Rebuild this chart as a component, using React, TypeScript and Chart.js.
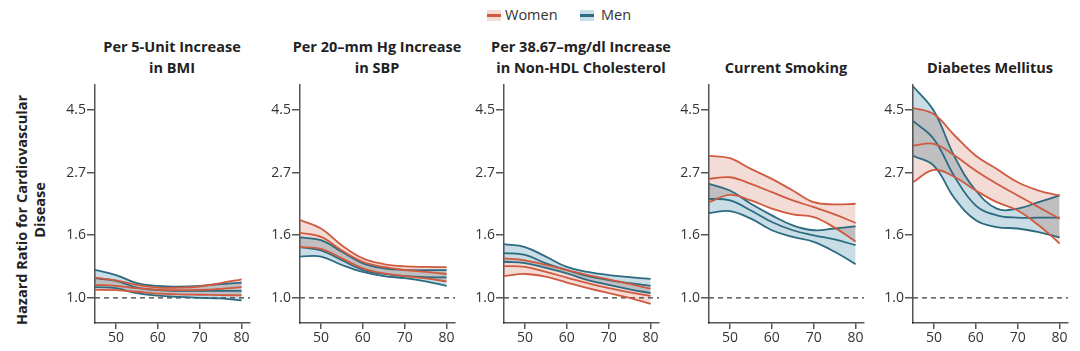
import React, { useEffect, useRef } from 'react';
import { Chart, registerables } from 'chart.js';

Chart.register(...registerables);

// ---------- data ----------
const ages = [45, 50, 55, 60, 65, 70, 75, 80];
const xTicks = [50, 60, 70, 80];
const yTickValues = [1.0, 1.6487, 2.7183, 4.4817];
const yTickLabels = ['1.0', '1.6', '2.7', '4.5'];
const legendLabels = ['Women', 'Men'];
const yAxisTitle = ['Hazard Ratio for Cardiovascular', 'Disease'];

const panelTitles = [
  ['Per 5-Unit Increase', 'in BMI'],
  ['Per 20\u2013mm Hg Increase', 'in SBP'],
  ['Per 38.67\u2013mg/dl Increase', 'in Non-HDL Cholesterol'],
  ['Current Smoking'],
  ['Diabetes Mellitus'],
];

// BMI
const bmiWomenUpper = [1.175, 1.15, 1.11, 1.085, 1.085, 1.095, 1.125, 1.16];
const bmiWomenMean = [1.11, 1.1, 1.08, 1.066, 1.063, 1.066, 1.075, 1.089];
const bmiWomenLower = [1.066, 1.063, 1.05, 1.034, 1.028, 1.025, 1.022, 1.02];
const bmiMenUpper = [1.25, 1.2, 1.125, 1.1, 1.094, 1.1, 1.115, 1.13];
const bmiMenMean = [1.17, 1.145, 1.085, 1.063, 1.057, 1.057, 1.057, 1.057];
const bmiMenLower = [1.09, 1.08, 1.038, 1.018, 1.008, 1.0, 0.995, 0.98];

// SBP
const sbpWomenUpper = [1.86, 1.74, 1.52, 1.37, 1.31, 1.286, 1.28, 1.278];
const sbpWomenMean = [1.68, 1.627, 1.46, 1.334, 1.28, 1.249, 1.23, 1.21];
const sbpWomenLower = [1.5, 1.48, 1.37, 1.266, 1.216, 1.19, 1.169, 1.14];
const sbpMenUpper = [1.62, 1.585, 1.445, 1.317, 1.266, 1.25, 1.247, 1.248];
const sbpMenMean = [1.5, 1.46, 1.35, 1.25, 1.21, 1.19, 1.18, 1.178];
const sbpMenLower = [1.39, 1.39, 1.3, 1.23, 1.19, 1.17, 1.14, 1.1];

// Non-HDL cholesterol
const nhWomenUpper = [1.37, 1.35, 1.3, 1.249, 1.2, 1.16, 1.117, 1.077];
const nhWomenMean = [1.289, 1.28, 1.23, 1.175, 1.124, 1.08, 1.045, 1.015];
const nhWomenLower = [1.19, 1.21, 1.184, 1.13, 1.08, 1.038, 1.0, 0.953];
const nhMenUpper = [1.535, 1.5, 1.39, 1.28, 1.23, 1.2, 1.18, 1.163];
const nhMenMean = [1.43, 1.41, 1.317, 1.249, 1.19, 1.153, 1.124, 1.1];
const nhMenLower = [1.334, 1.32, 1.27, 1.216, 1.153, 1.109, 1.071, 1.038];

// Current smoking
const smWomenUpper = [3.11, 3.05, 2.8, 2.586, 2.356, 2.147, 2.11, 2.12];
const smWomenMean = [2.586, 2.62, 2.485, 2.325, 2.177, 2.064, 1.948, 1.818];
const smWomenLower = [2.147, 2.277, 2.177, 2.04, 1.948, 1.906, 1.752, 1.567];
const smMenUpper = [2.485, 2.356, 2.12, 1.933, 1.785, 1.716, 1.74, 1.77];
const smMenMean = [2.206, 2.177, 2.01, 1.832, 1.716, 1.648, 1.594, 1.523];
const smMenLower = [1.968, 2.0, 1.882, 1.716, 1.627, 1.564, 1.445, 1.307];

// Diabetes mellitus
const dmWomenUpper = [4.56, 4.33, 3.65, 3.11, 2.8, 2.517, 2.356, 2.265];
const dmWomenMean = [3.37, 3.42, 3.11, 2.76, 2.486, 2.265, 2.064, 1.88];
const dmWomenLower = [2.517, 2.777, 2.62, 2.356, 2.147, 2.01, 1.785, 1.544];
const dmMenUpper = [5.42, 4.45, 3.07, 2.356, 2.04, 2.04, 2.147, 2.265];
const dmMenMean = [4.11, 3.55, 2.62, 2.09, 1.933, 1.897, 1.897, 1.897];
const dmMenLower = [3.11, 2.87, 2.206, 1.857, 1.76, 1.74, 1.69, 1.62];

const panelWomen = [
  [bmiWomenLower, bmiWomenMean, bmiWomenUpper],
  [sbpWomenLower, sbpWomenMean, sbpWomenUpper],
  [nhWomenLower, nhWomenMean, nhWomenUpper],
  [smWomenLower, smWomenMean, smWomenUpper],
  [dmWomenLower, dmWomenMean, dmWomenUpper],
];
const panelMen = [
  [bmiMenLower, bmiMenMean, bmiMenUpper],
  [sbpMenLower, sbpMenMean, sbpMenUpper],
  [nhMenLower, nhMenMean, nhMenUpper],
  [smMenLower, smMenMean, smMenUpper],
  [dmMenLower, dmMenMean, dmMenUpper],
];

// ---------- styles ----------
const RED = '#cf5a3f';
const BLUE = '#2c6a80';
const RED_FILL = '#f4dcd6';
const BLUE_FILL = '#c8dde5';
const AXIS = '#555555';
const TEXT = '#333333';
const FONT = '"Open Sans", "DejaVu Sans", sans-serif';

const AXIS_X = [95, 300, 504, 709, 913];
const Y_AXIS_W = 40;
const PAD_R = 8;
const PAD_T = 8;
const X_AXIS_H = 28;
const PLOT_W = 155;
const PLOT_H = 240;
const CANVAS_W = Y_AXIS_W + PLOT_W + PAD_R;
const CANVAS_H = PAD_T + PLOT_H + X_AXIS_H;
const CANVAS_TOP = 83 - PAD_T;

const blendPlugin = {
  id: 'bandBlend',
  beforeDraw(chart: any) {
    chart.ctx.globalCompositeOperation = 'multiply';
  },
  beforeDatasetsDraw(chart: any) {
    chart.ctx.globalCompositeOperation = 'source-over';
  },
};

function Panel({ index }: { index: number }) {
  const ref = useRef<HTMLCanvasElement>(null);
  useEffect(() => {
    if (!ref.current) return;
    const pts = (arr: number[]) => arr.map((y, i) => ({ x: ages[i], y }));
    const line = (arr: number[], color: string, fill: any = false, bg?: string) => ({
      data: pts(arr),
      borderColor: color,
      borderWidth: 1.8,
      pointRadius: 0,
      fill,
      backgroundColor: bg ?? 'transparent',
      tension: 0.4,
    });
    const [wl, wm, wu] = panelWomen[index];
    const [ml, mm, mu] = panelMen[index];
    const chart = new Chart(ref.current, {
      type: 'line',
      data: {
        datasets: [
          line(wl, RED),
          line(wm, RED),
          line(wu, RED, '-2', RED_FILL),
          line(ml, BLUE),
          line(mm, BLUE),
          line(mu, BLUE, '-2', BLUE_FILL),
          {
            data: [
              { x: 45, y: 1 },
              { x: 82, y: 1 },
            ],
            borderColor: '#3a3a3a',
            borderWidth: 1.3,
            borderDash: [5, 4],
            pointRadius: 0,
            fill: false,
          } as any,
        ],
      },
      options: {
        animation: false,
        responsive: false,
        maintainAspectRatio: false,
        devicePixelRatio: 1,
        events: [],
        layout: { padding: { top: PAD_T, right: PAD_R, left: 0, bottom: 0 } },
        plugins: {
          legend: { display: false },
          tooltip: { enabled: false },
          title: { display: false },
          filler: { drawTime: 'beforeDatasetsDraw' },
        } as any,
        scales: {
          x: {
            type: 'linear',
            min: 45,
            max: 82,
            afterBuildTicks: (s: any) => {
              s.ticks = xTicks.map((v) => ({ value: v }));
            },
            afterFit: (s: any) => {
              s.height = X_AXIS_H;
            },
            ticks: {
              autoSkip: false,
              maxRotation: 0,
              padding: 1,
              color: TEXT,
              font: { family: FONT, size: 14 },
              callback: (v: any) => String(v),
            },
            grid: {
              display: true,
              drawOnChartArea: false,
              drawTicks: true,
              tickLength: 6,
              color: AXIS,
              lineWidth: 1.5,
            },
            border: { display: true, color: AXIS, width: 1.5 },
          },
          y: {
            type: 'logarithmic',
            min: 0.818,
            max: 5.5,
            afterBuildTicks: (s: any) => {
              s.ticks = yTickValues.map((v) => ({ value: v }));
            },
            afterFit: (s: any) => {
              s.width = Y_AXIS_W;
            },
            ticks: {
              autoSkip: false,
              padding: 1,
              color: TEXT,
              font: { family: FONT, size: 14 },
              callback: (_v: any, i: number) => yTickLabels[i],
            },
            grid: {
              display: true,
              drawOnChartArea: false,
              drawTicks: true,
              tickLength: 8,
              color: AXIS,
              lineWidth: 1.5,
            },
            border: { display: true, color: AXIS, width: 1.5 },
          },
        } as any,
      },
      plugins: [blendPlugin],
    });
    return () => chart.destroy();
  }, [index]);
  return (
    <canvas
      ref={ref}
      width={CANVAS_W}
      height={CANVAS_H}
      style={{
        position: 'absolute',
        left: AXIS_X[index] - Y_AXIS_W,
        top: CANVAS_TOP,
        width: CANVAS_W,
        height: CANVAS_H,
      }}
    />
  );
}

function Swatch({ line, fill }: { line: string; fill: string }) {
  return (
    <span
      style={{
        position: 'absolute',
        width: 14,
        height: 11,
        background: fill,
        top: 0,
        left: 0,
      }}
    >
      <span
        style={{
          position: 'absolute',
          left: 0,
          width: 14,
          top: 4,
          height: 3,
          background: line,
        }}
      />
    </span>
  );
}

export default function App() {
  return (
    <div
      style={{
        position: 'absolute',
        left: 0,
        top: 0,
        width: 1080,
        height: 351,
        background: '#ffffff',
        fontFamily: FONT,
        color: TEXT,
        overflow: 'hidden',
      }}
    >
      {/* legend */}
      <div style={{ position: 'absolute', left: 487, top: 10, width: 14, height: 11 }}>
        <Swatch line={RED} fill={RED_FILL} />
      </div>
      <div style={{ position: 'absolute', left: 505, top: 5, fontSize: 14.5, lineHeight: '20px' }}>
        {legendLabels[0]}
      </div>
      <div style={{ position: 'absolute', left: 580, top: 10, width: 14, height: 11 }}>
        <Swatch line={BLUE} fill={BLUE_FILL} />
      </div>
      <div style={{ position: 'absolute', left: 601, top: 5, fontSize: 14.5, lineHeight: '20px' }}>
        {legendLabels[1]}
      </div>

      {/* y-axis title */}
      <div
        style={{
          position: 'absolute',
          left: 31 - 130,
          top: 210 - 18,
          width: 260,
          height: 36,
          transform: 'rotate(-90deg)',
          textAlign: 'center',
          fontWeight: 700,
          fontSize: 14.5,
          lineHeight: '18px',
          color: '#222',
        }}
      >
        {yAxisTitle.map((t, i) => (
          <div key={i}>{t}</div>
        ))}
      </div>

      {panelTitles.map((lines, i) => (
        <div
          key={'t' + i}
          style={{
            position: 'absolute',
            left: AXIS_X[i] + 77 - 110,
            top: 36,
            width: 220,
            height: 42,
            display: 'flex',
            flexDirection: 'column',
            justifyContent: 'flex-end',
            alignItems: 'center',
            fontWeight: 700,
            fontSize: 14.5,
            lineHeight: '21px',
            color: '#222',
            whiteSpace: 'nowrap',
          }}
        >
          {lines.map((t, j) => (
            <div key={j}>{t}</div>
          ))}
        </div>
      ))}

      {panelTitles.map((_, i) => (
        <Panel key={'p' + i} index={i} />
      ))}
    </div>
  );
}
